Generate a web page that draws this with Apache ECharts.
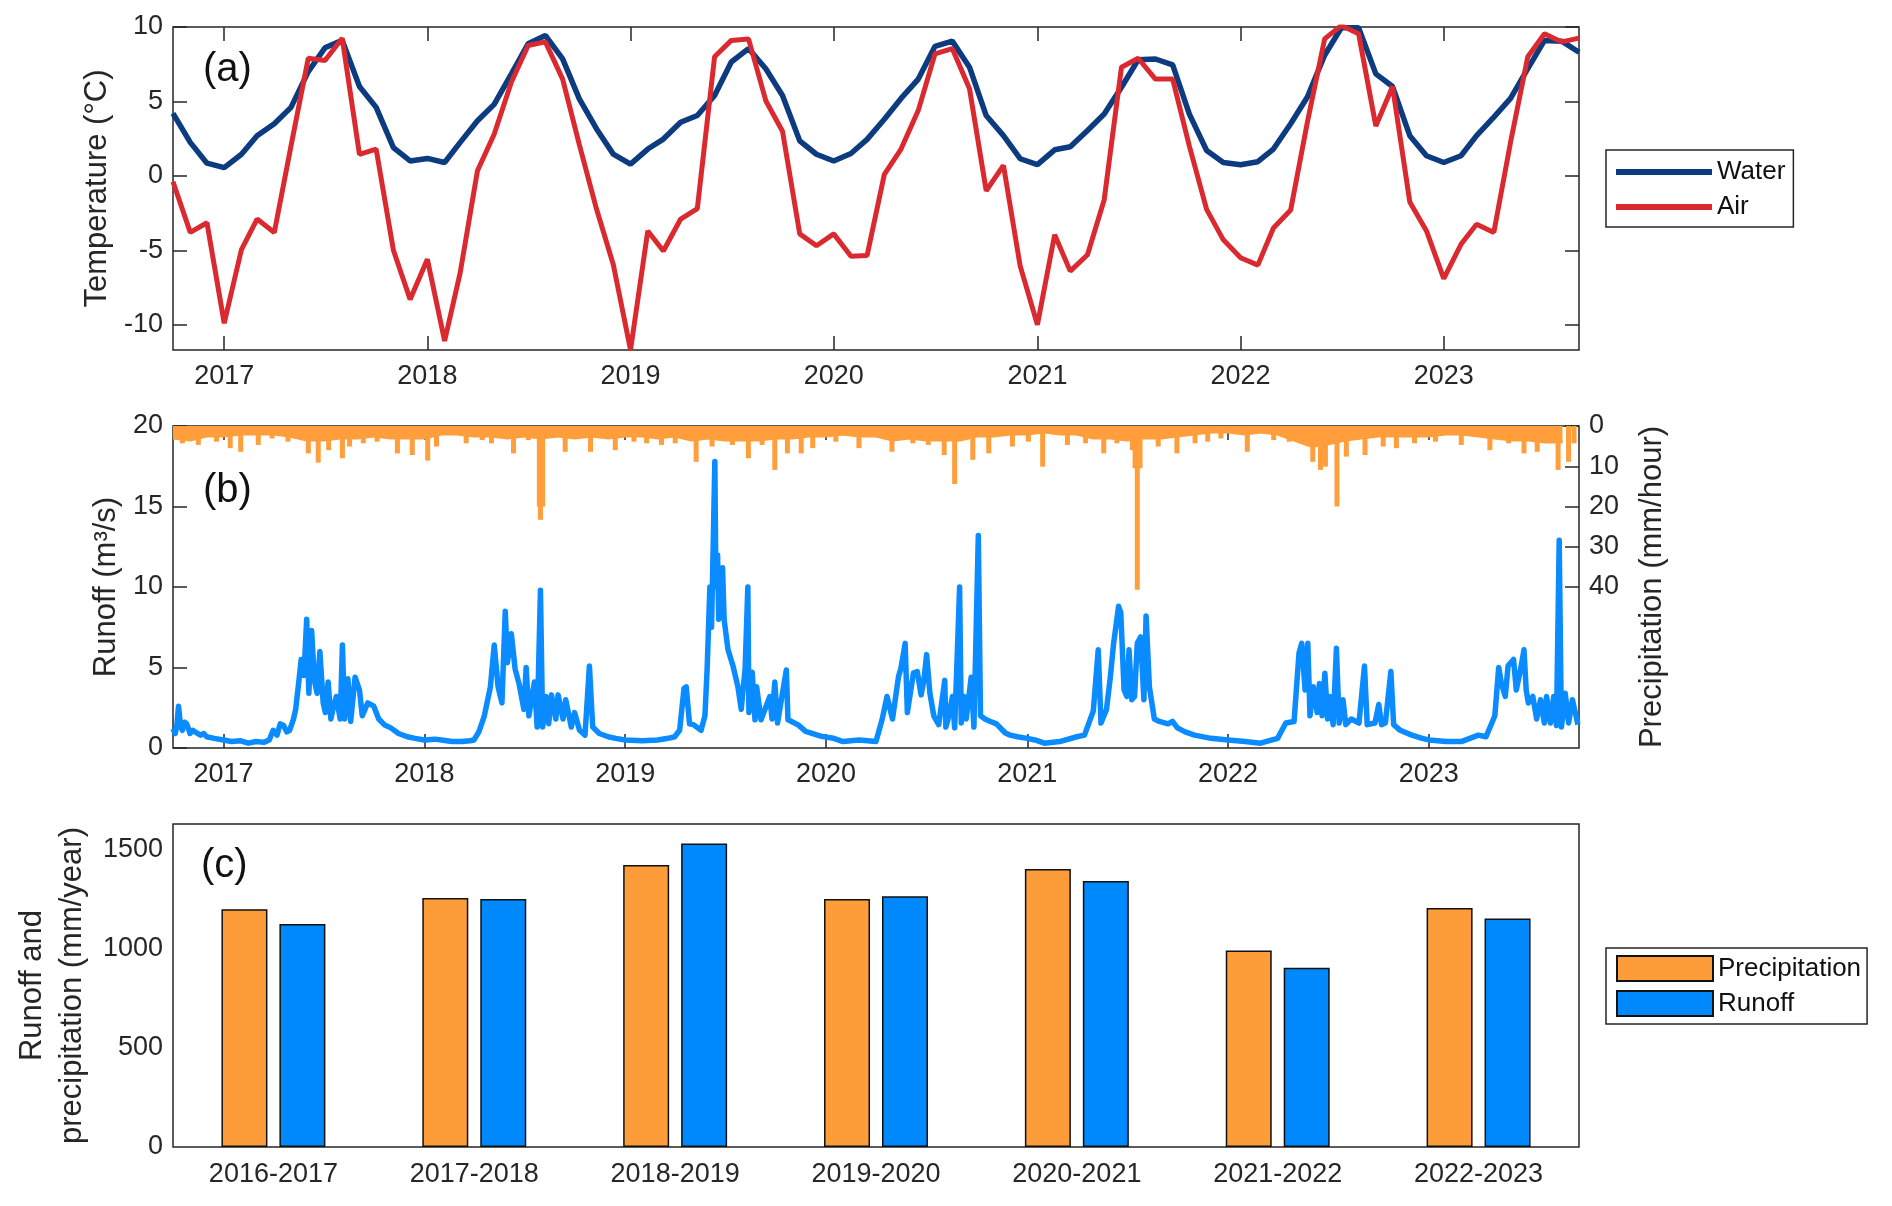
<!DOCTYPE html>
<html>
<head>
<meta charset="utf-8">
<script src="https://cdn.jsdelivr.net/npm/echarts@6/dist/echarts.min.js"></script>
<style>
  html, body { margin: 0; padding: 0; background: #fff; }
  #chart { width: 1892px; height: 1206px; }
</style>
</head>
<body>
<div id="chart"></div>
<script>
// monthly temperatures, Oct 2016 .. Sep 2023
const waterTemp = [
  4.2, 2.25, 0.85,
  0.55, 1.45, 2.7, 3.5, 4.6, 7.0, 8.6, 9.1, 6.0, 4.6, 1.9, 1.0,
  1.17, 0.9, 2.25, 3.7, 4.8, 6.85, 8.87, 9.43, 7.86, 5.17, 3.15, 1.46,
  0.79, 1.8, 2.47, 3.6, 4.05, 5.4, 7.65, 8.55, 7.2, 5.4, 2.35, 1.45,
  1.0, 1.5, 2.45, 3.8, 5.2, 6.5, 8.7, 9.05, 7.3, 4.05, 2.7, 1.15,
  0.75, 1.75, 1.95, 3.05, 4.15, 5.95, 7.8, 7.85, 7.45, 4.15, 1.7, 0.9,
  0.75, 0.95, 1.8, 3.5, 5.3, 8.1, 9.95, 9.95, 6.85, 6.0, 2.7, 1.35,
  0.9, 1.35, 2.7, 3.95, 5.2, 7.2, 9.1, 9.05, 8.3
];
const airTemp = [
  -0.4, -3.8, -3.15,
  -9.9, -4.95, -2.9, -3.8, 2.0, 7.9, 7.75, 9.25, 1.45, 1.8, -5.0, -8.3,
  -5.6, -11.1, -6.5, 0.34, 2.8, 6.3, 8.76, 9.0, 6.5, 2.1, -2.25, -5.95,
  -11.7, -3.7, -5.05, -2.9, -2.2, 8.0, 9.1, 9.2, 5.05, 3.0, -3.9, -4.7,
  -3.9, -5.4, -5.35, 0.1, 1.8, 4.4, 8.2, 8.55, 5.85, -1.0, 0.7, -6.05,
  -10.0, -3.95, -6.4, -5.3, -1.6, 7.3, 7.9, 6.5, 6.5, 2.0, -2.25, -4.3,
  -5.5, -6.0, -3.5, -2.3, 3.6, 9.2, 10.1, 9.55, 3.35, 6.0, -1.75, -3.7,
  -6.9, -4.6, -3.25, -3.8, 2.25, 8.0, 9.55, 9.0, 9.25
];

// daily runoff (m3/s)
const runoffDaily = [
  ['2016-10-01',1.2],['2016-10-05',0.9],['2016-10-08',1.4],['2016-10-11',2.6],['2016-10-15',1.3],['2016-10-18',1.1],['2016-10-22',1.6],['2016-10-26',1.5],
  ['2016-11-01',0.9],['2016-11-06',1.1],['2016-11-10',1.0],['2016-11-20',0.8],['2016-11-26',0.9],['2016-12-01',0.7],['2016-12-15',0.6],
  ['2017-01-01',0.5],['2017-01-15',0.4],['2017-02-01',0.45],['2017-02-15',0.3],['2017-03-01',0.4],['2017-03-15',0.35],
  ['2017-03-25',0.5],['2017-04-01',1.1],['2017-04-08',0.8],['2017-04-14',1.5],['2017-04-20',1.4],['2017-04-26',1.0],
  ['2017-05-01',1.1],['2017-05-08',1.8],['2017-05-12',2.4],['2017-05-18',4.2],['2017-05-22',5.5],['2017-05-27',4.5],
  ['2017-06-01',8.0],['2017-06-05',3.4],['2017-06-10',7.3],['2017-06-15',4.2],['2017-06-20',3.4],['2017-06-25',6.0],
  ['2017-07-01',2.8],['2017-07-05',2.2],['2017-07-10',4.1],['2017-07-15',1.8],['2017-07-20',2.6],['2017-07-25',3.2],
  ['2017-08-01',1.8],['2017-08-05',6.4],['2017-08-09',1.8],['2017-08-15',4.3],['2017-08-20',1.65],['2017-08-28',4.4],
  ['2017-09-05',3.6],['2017-09-10',2.0],['2017-09-20',2.8],['2017-10-01',2.6],['2017-10-10',1.8],['2017-10-20',1.45],
  ['2017-11-01',1.25],['2017-11-15',0.9],['2017-12-01',0.7],['2017-12-15',0.6],
  ['2018-01-01',0.5],['2018-01-20',0.55],['2018-02-01',0.5],['2018-02-20',0.4],['2018-03-10',0.4],['2018-03-25',0.45],
  ['2018-04-01',0.5],['2018-04-10',1.0],['2018-04-20',2.0],['2018-05-01',3.8],['2018-05-05',5.3],['2018-05-08',6.4],
  ['2018-05-15',3.8],['2018-05-22',2.8],['2018-05-28',8.5],['2018-06-01',5.3],['2018-06-08',7.1],['2018-06-15',4.9],
  ['2018-06-22',4.0],['2018-07-01',2.4],['2018-07-05',5.0],['2018-07-10',2.0],['2018-07-20',4.1],['2018-07-25',1.3],
  ['2018-07-31',9.8],['2018-08-04',1.3],['2018-08-10',3.2],['2018-08-15',1.5],['2018-08-20',3.3],['2018-08-28',1.8],
  ['2018-09-01',3.3],['2018-09-10',1.8],['2018-09-15',3.0],['2018-09-25',1.3],['2018-10-01',2.2],['2018-10-10',1.1],
  ['2018-10-20',0.8],['2018-10-28',5.1],['2018-11-03',1.3],['2018-11-15',0.9],['2018-12-01',0.7],['2018-12-15',0.6],
  ['2019-01-01',0.5],['2019-02-01',0.45],['2019-03-01',0.5],['2019-03-20',0.6],['2019-04-01',0.7],['2019-04-10',1.1],
  ['2019-04-18',3.7],['2019-04-22',3.8],['2019-04-28',1.5],['2019-05-05',1.45],['2019-05-19',1.1],['2019-05-26',2.0],
  ['2019-05-30',4.9],['2019-06-04',10.0],['2019-06-07',7.5],['2019-06-10',12.5],['2019-06-13',17.8],['2019-06-15',10.0],
  ['2019-06-18',12.0],['2019-06-20',8.0],['2019-06-22',10.9],['2019-06-25',8.5],['2019-06-27',11.2],['2019-06-30',7.95],
  ['2019-07-07',6.1],['2019-07-16',5.1],['2019-07-25',3.8],['2019-07-31',2.4],['2019-08-07',4.9],['2019-08-12',10.0],
  ['2019-08-14',2.2],['2019-08-20',4.7],['2019-08-25',1.75],['2019-08-28',3.8],['2019-09-05',1.75],['2019-09-21',3.2],
  ['2019-09-25',1.8],['2019-09-30',4.1],['2019-10-05',1.55],['2019-10-21',4.85],['2019-10-24',1.75],['2019-11-11',1.45],
  ['2019-11-25',1.03],['2019-12-24',0.72],
  ['2020-01-15',0.6],['2020-02-01',0.4],['2020-03-01',0.5],['2020-04-01',0.4],['2020-04-12',1.75],['2020-04-21',3.2],
  ['2020-05-01',1.8],['2020-05-12',4.45],['2020-05-16',4.9],['2020-05-24',6.5],['2020-05-28',2.2],['2020-06-08',4.65],
  ['2020-06-15',4.75],['2020-06-22',3.3],['2020-06-27',4.2],['2020-07-02',5.8],['2020-07-08',3.4],['2020-07-15',2.0],
  ['2020-07-24',1.45],['2020-08-04',4.2],['2020-08-06',1.3],['2020-08-10',1.8],['2020-08-18',3.2],['2020-08-22',1.25],
  ['2020-08-31',10.0],['2020-09-03',1.55],['2020-09-08',3.2],['2020-09-12',1.8],['2020-09-21',4.4],['2020-09-26',1.3],
  ['2020-10-04',13.2],['2020-10-08',2.0],['2020-10-16',1.8],['2020-10-26',1.65],['2020-11-06',1.5],['2020-11-22',0.93],
  ['2020-12-01',0.8],['2020-12-14',0.7],['2021-01-01',0.6],['2021-01-15',0.5],['2021-02-01',0.3],['2021-03-01',0.4],
  ['2021-04-01',0.7],['2021-04-15',0.8],['2021-05-01',2.3],['2021-05-10',6.1],['2021-05-15',1.55],['2021-05-25',2.4],
  ['2021-06-01',4.4],['2021-06-07',6.5],['2021-06-16',8.8],['2021-06-20',8.4],['2021-06-26',3.6],['2021-07-01',3.2],
  ['2021-07-05',6.1],['2021-07-10',3.0],['2021-07-15',3.2],['2021-07-20',6.5],['2021-07-26',6.9],['2021-08-01',3.0],
  ['2021-08-05',8.2],['2021-08-11',3.8],['2021-08-20',1.8],['2021-08-29',1.65],['2021-09-14',1.5],['2021-09-22',1.65],
  ['2021-10-01',1.25],['2021-10-15',1.0],['2021-11-01',0.8],['2021-12-01',0.6],['2022-01-01',0.5],['2022-02-01',0.4],
  ['2022-03-01',0.3],['2022-04-01',0.6],['2022-04-16',1.55],['2022-05-01',1.65],['2022-05-10',5.9],['2022-05-15',6.5],
  ['2022-05-21',3.6],['2022-05-26',6.5],['2022-05-30',2.0],['2022-06-05',3.8],['2022-06-12',2.2],['2022-06-16',4.0],
  ['2022-06-21',2.0],['2022-06-26',4.65],['2022-07-01',1.8],['2022-07-05',3.2],['2022-07-11',1.45],['2022-07-17',6.2],
  ['2022-07-22',1.55],['2022-07-29',3.0],['2022-08-03',1.45],['2022-08-13',1.8],['2022-08-27',1.55],['2022-09-06',5.1],
  ['2022-09-11',1.45],['2022-09-25',1.55],['2022-10-02',2.7],['2022-10-07',1.45],['2022-10-14',1.55],['2022-10-24',4.75],
  ['2022-10-29',1.45],['2022-11-10',1.1],['2022-12-01',0.8],['2022-12-20',0.6],['2023-01-01',0.5],['2023-02-01',0.4],
  ['2023-03-01',0.4],['2023-04-01',0.8],['2023-04-15',0.7],['2023-05-01',2.0],['2023-05-08',5.0],['2023-05-13',4.0],
  ['2023-05-20',3.2],['2023-05-25',5.1],['2023-06-04',5.5],['2023-06-09',3.6],['2023-06-18',5.1],['2023-06-23',6.1],
  ['2023-06-27',3.6],['2023-07-01',2.8],['2023-07-09',3.2],['2023-07-16',1.8],['2023-07-23',3.0],['2023-07-30',1.55],
  ['2023-08-03',3.2],['2023-08-10',1.55],['2023-08-16',3.2],['2023-08-21',1.4],['2023-08-26',12.9],['2023-08-30',1.3],
  ['2023-09-06',3.4],['2023-09-12',1.55],['2023-09-19',3.0],['2023-09-29',1.45]
];

// precipitation background level (mm/hour), monthly, Oct 2016 .. Sep 2023
const precipBase = [
  3.0, 3.5, 2.5,
  2.5, 2.0, 2.0, 2.0, 2.5, 3.5, 3.5, 3.0, 3.0, 2.5, 3.0, 3.0,
  3.0, 2.0, 2.0, 2.5, 2.5, 3.0, 2.5, 3.0, 2.5, 3.0, 2.5, 3.0,
  2.5, 2.5, 3.0, 2.5, 3.5, 3.0, 3.5, 3.5, 3.5, 3.0, 3.0, 2.5,
  2.5, 2.0, 2.5, 2.5, 3.5, 3.0, 3.5, 3.5, 3.5, 2.5, 2.5, 2.0,
  2.0, 1.5, 2.0, 2.0, 3.0, 3.0, 3.5, 3.0, 3.0, 2.5, 2.0, 1.5,
  1.5, 2.0, 1.5, 2.0, 3.5, 5.0, 4.5, 3.5, 3.0, 2.5, 2.5, 2.5,
  2.5, 2.0, 2.0, 2.5, 3.0, 3.5, 3.5, 4.0, 4.0
];
// precipitation peaks (mm/hour)
const precipPeaks = [
  ['2016-10-18',4.3],['2016-11-16',4.7],['2016-12-19',3.9],['2017-01-13',5.5],['2017-02-01',6.4],['2017-03-05',4.7],
  ['2017-03-30',3.1],['2017-04-28',3.9],['2017-06-04',6.8],['2017-06-22',9.1],['2017-07-11',6.0],['2017-08-05',8.0],
  ['2017-08-18',5.1],['2017-09-12',4.3],['2017-10-07',3.9],['2017-11-13',6.8],['2017-12-10',7.2],['2018-01-07',8.6],
  ['2018-01-23',5.1],['2018-03-18',4.3],['2018-04-16',3.5],['2018-05-03',4.3],['2018-06-12',6.8],['2018-07-09',3.5],
  ['2018-07-29',20.0],['2018-07-31',23.3],['2018-08-04',20.0],['2018-09-14',6.4],['2018-10-30',6.4],['2018-12-14',6.0],
  ['2019-01-17',3.9],['2019-02-09',4.3],['2019-03-08',4.7],['2019-04-02',4.3],['2019-05-10',8.9],['2019-06-08',5.1],
  ['2019-07-15',4.7],['2019-08-13',8.0],['2019-09-07',4.7],['2019-09-30',10.9],['2019-10-23',6.8],['2019-11-17',6.8],
  ['2019-12-08',5.5],['2020-01-19',3.9],['2020-03-01',5.5],['2020-04-30',6.4],['2020-06-07',4.3],['2020-07-05',4.7],
  ['2020-08-03',7.2],['2020-08-22',14.4],['2020-09-24',8.4],['2020-10-23',6.8],['2020-12-05',5.1],['2021-01-03',3.9],
  ['2021-01-29',10.1],['2021-03-15',4.7],['2021-04-17',4.3],['2021-05-20',6.8],['2021-06-13',4.3],['2021-07-11',6.0],
  ['2021-07-16',10.5],['2021-07-20',40.7],['2021-07-25',10.5],['2021-08-27',5.1],['2021-09-30',6.8],['2021-11-02',4.3],
  ['2021-11-25',3.9],['2021-12-19',3.1],['2022-02-05',6.4],['2022-03-25',3.5],['2022-04-22',3.9],['2022-06-04',8.9],
  ['2022-06-18',10.9],['2022-06-27',10.1],['2022-07-18',20.0],['2022-08-04',7.6],['2022-09-07',7.2],['2022-10-10',5.1],
  ['2022-11-03',5.5],['2022-12-06',4.3],['2023-01-13',3.9],['2023-03-01',4.7],['2023-04-22',6.0],['2023-05-26',4.3],
  ['2023-06-23',6.8],['2023-07-17',6.4],['2023-08-24',10.9],['2023-09-12',8.9],['2023-09-22',4.3]
];

// annual totals (mm/year)
const hydroYears = ['2016-2017', '2017-2018', '2018-2019', '2019-2020', '2020-2021', '2021-2022', '2022-2023'];
const annualPrecip = [1200, 1256, 1423, 1251, 1403, 992, 1206];
const annualRunoff = [1125, 1251, 1531, 1265, 1342, 904, 1153];

const yearTicks = ['2017', '2018', '2019', '2020', '2021', '2022', '2023'];
const tempTicks = [-10, -5, 0, 5, 10];
const runoffTicks = [0, 5, 10, 15, 20];
const precipTicks = [0, 10, 20, 30, 40];
const annualTicks = [0, 500, 1000, 1500];

const FONT = '"Liberation Sans", Arial, Helvetica, sans-serif';
const INK = '#262626';
const WATER = '#0c3b80';
const AIR = '#da2a30';
const BLUE = '#0a8bff';
const ORANGE = '#ff9e3a';

const t = s => Date.parse(s + 'T00:00:00Z');
const yearTs = yearTicks.map(y => t(y + '-01-01'));

const months = [];
for (let y = 2016, m = 9; months.length < 84; m++) {
  if (m === 12) { m = 0; y++; }
  months.push(y + '-' + String(m + 1).padStart(2, '0') + '-01');
}

const chart = echarts.init(document.getElementById('chart'));

const tickStyle = { inside: true, length: 14, lineStyle: { color: INK, width: 1.5 } };
const labelStyle = { color: INK, fontSize: 27, fontFamily: FONT };
const nameStyle = { color: INK, fontSize: 31, fontFamily: FONT };
const gridBox = { show: true, borderColor: INK, borderWidth: 1.5, backgroundColor: 'transparent' };

const timeAxis = (grid, max, position, labels) => ({
  type: 'value', gridIndex: grid, position, min: t('2016-10-01'), max: t(max),
  axisLine: { show: false, onZero: false }, splitLine: { show: false },
  axisTick: Object.assign({ customValues: yearTs }, tickStyle),
  axisLabel: Object.assign({
    show: labels, customValues: yearTs, margin: 13,
    formatter: v => String(new Date(v).getUTCFullYear())
  }, labelStyle)
});

const valAxis = (grid, position, min, max, ticks, labels, extra) => Object.assign({
  type: 'value', gridIndex: grid, position, min, max,
  axisLine: { show: false, onZero: false }, splitLine: { show: false },
  axisTick: Object.assign({ customValues: ticks }, tickStyle),
  axisLabel: Object.assign({ show: labels, customValues: ticks, margin: 10, formatter: v => String(v) }, labelStyle)
}, extra || {});

const panelLabel = (txt, x, y) => ({
  type: 'text', left: x, top: y,
  style: { text: txt, fontSize: 40, fontFamily: FONT, fill: '#111' }
});

chart.setOption({
  animation: false,
  backgroundColor: '#fff',
  grid: [
    Object.assign({ left: 173, top: 27, width: 1406, height: 323 }, gridBox),
    Object.assign({ left: 173, top: 426, width: 1406, height: 322 }, gridBox),
    Object.assign({ left: 173, top: 824, width: 1406, height: 323 }, gridBox)
  ],
  xAxis: [
    timeAxis(0, '2023-09-01', 'bottom', true),
    timeAxis(0, '2023-09-01', 'top', false),
    timeAxis(1, '2023-10-01', 'bottom', true),
    timeAxis(1, '2023-10-01', 'top', false),
    {
      type: 'category', gridIndex: 2, position: 'bottom', data: hydroYears,
      axisLine: { show: false, onZero: false },
      axisTick: Object.assign({ alignWithLabel: true }, tickStyle, { length: 13 }),
      axisLabel: Object.assign({ margin: 14 }, labelStyle)
    },
    {
      type: 'category', gridIndex: 2, position: 'top', data: hydroYears,
      axisLine: { show: false, onZero: false },
      axisTick: Object.assign({ alignWithLabel: true }, tickStyle),
      axisLabel: { show: false }
    }
  ],
  yAxis: [
    valAxis(0, 'left', -11.7, 10, tempTicks, true, {
      name: 'Temperature (°C)', nameLocation: 'middle', nameGap: 60, nameRotate: 90, nameTextStyle: nameStyle
    }),
    valAxis(0, 'right', -11.7, 10, tempTicks, false),
    valAxis(1, 'left', 0, 20, runoffTicks, true, {
      name: 'Runoff (m³/s)', nameLocation: 'middle', nameGap: 50, nameRotate: 90, nameTextStyle: nameStyle
    }),
    valAxis(1, 'right', 0, 80, precipTicks, true, {
      inverse: true,
      name: 'Precipitation (mm/hour)', nameLocation: 'middle', nameGap: 58, nameRotate: 90, nameTextStyle: nameStyle
    }),
    valAxis(2, 'left', 0, 1630, annualTicks, true, {
      name: 'Runoff and\nprecipitation (mm/year)', nameLocation: 'middle', nameGap: 68, nameRotate: 90,
      nameTextStyle: Object.assign({ lineHeight: 40 }, nameStyle)
    }),
    valAxis(2, 'right', 0, 1630, annualTicks, false)
  ],
  legend: [
    {
      data: ['Water', 'Air'], orient: 'vertical', left: 1606, top: 150,
      padding: [8, 8, 6, 10], itemGap: 7, itemWidth: 96, itemHeight: 6, icon: 'rect',
      borderColor: INK, borderWidth: 1.5, backgroundColor: '#fff',
      textStyle: { fontSize: 26, color: '#111', fontFamily: FONT, lineHeight: 28 }
    },
    {
      data: ['Precipitation', 'Runoff'], orient: 'vertical', left: 1606, top: 948,
      padding: [7, 6, 7, 10], itemGap: 8, itemWidth: 96, itemHeight: 25, icon: 'rect',
      borderColor: INK, borderWidth: 1.5, backgroundColor: '#fff',
      textStyle: { fontSize: 26, color: '#111', fontFamily: FONT, lineHeight: 26 }
    }
  ],
  graphic: [
    panelLabel('(a)', 203, 50),
    panelLabel('(b)', 203, 471),
    panelLabel('(c)', 201, 846)
  ],
  series: [
    {
      name: 'Water', type: 'line', xAxisIndex: 0, yAxisIndex: 0, showSymbol: false,
      color: WATER, lineStyle: { width: 5.5, color: WATER },
      data: months.map((m, i) => [t(m), waterTemp[i]])
    },
    {
      name: 'Air', type: 'line', xAxisIndex: 0, yAxisIndex: 0, showSymbol: false,
      color: AIR, lineStyle: { width: 5, color: AIR },
      data: months.map((m, i) => [t(m), airTemp[i]])
    },
    {
      name: 'precip-base', type: 'line', xAxisIndex: 2, yAxisIndex: 3, showSymbol: false,
      lineStyle: { width: 3, color: ORANGE }, areaStyle: { color: ORANGE, opacity: 1 },
      data: months.map((m, i) => [t(m), precipBase[i]])
    },
    {
      name: 'precip-peaks', type: 'bar', xAxisIndex: 2, yAxisIndex: 3, barWidth: 5,
      itemStyle: { color: ORANGE },
      data: precipPeaks.map(d => [t(d[0]), d[1]])
    },
    {
      name: 'runoff-daily', type: 'line', xAxisIndex: 2, yAxisIndex: 2, showSymbol: false,
      lineStyle: { width: 5.5, color: BLUE, join: 'round' }, z: 3,
      data: runoffDaily.map(d => [t(d[0]), d[1]])
    },
    {
      name: 'Precipitation', type: 'bar', xAxisIndex: 4, yAxisIndex: 4, barWidth: 46, barGap: '26%',
      itemStyle: { color: '#fd9d3a', borderColor: '#111', borderWidth: 1.5 },
      data: annualPrecip
    },
    {
      name: 'Runoff', type: 'bar', xAxisIndex: 4, yAxisIndex: 4, barWidth: 46, barGap: '26%',
      itemStyle: { color: '#0088fd', borderColor: '#111', borderWidth: 1.5 },
      data: annualRunoff
    }
  ]
});
</script>
</body>
</html>
